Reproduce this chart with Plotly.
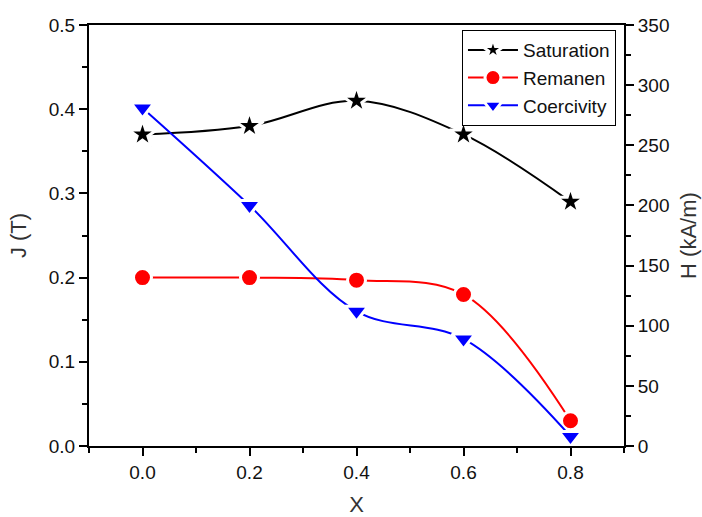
import plotly.graph_objects as go

x_vals = [0.0, 0.2, 0.4, 0.6, 0.8]
saturation = [0.37, 0.38, 0.41, 0.37, 0.29]
remanen = [0.20, 0.20, 0.197, 0.18, 0.03]
coercivity = [281, 200, 112, 89, 8]

x_ticks = [0.0, 0.2, 0.4, 0.6, 0.8]
x_ticklabels = ["0.0", "0.2", "0.4", "0.6", "0.8"]

FONT = "Liberation Sans, Arial, sans-serif"

fig = go.Figure()
fig.add_trace(go.Scatter(
    x=x_vals, y=saturation, name="Saturation", mode="lines+markers",
    line=dict(color="black", width=2, shape="spline", smoothing=1),
    marker=dict(symbol="star", size=21, color="black", line=dict(color="white", width=3)),
))
fig.add_trace(go.Scatter(
    x=x_vals, y=remanen, name="Remanen", mode="lines+markers",
    line=dict(color="red", width=2, shape="spline", smoothing=1),
    marker=dict(symbol="circle", size=18, color="red", line=dict(color="white", width=3)),
))
fig.add_trace(go.Scatter(
    x=x_vals, y=coercivity, name="Coercivity", mode="lines+markers", yaxis="y2",
    line=dict(color="blue", width=2, shape="spline", smoothing=1),
    marker=dict(symbol="triangle-down", size=20, color="blue", line=dict(color="white", width=3)),
))

axis_common = dict(
    showline=True, linecolor="black", linewidth=2, showgrid=False, zeroline=False,
    ticks="outside", ticklen=8, tickwidth=2, tickcolor="black", automargin=False,
    tickfont=dict(family=FONT, size=19, color="#111"),
)

fig.update_layout(
    width=702, height=517,
    margin=dict(l=89, r=78, t=25, b=71),
    paper_bgcolor="white", plot_bgcolor="white",
    font=dict(family=FONT, color="#111"),
    xaxis=dict(
        range=[-0.1, 0.9], tickvals=x_ticks, ticktext=x_ticklabels, mirror=True,
        minor=dict(ticks="outside", ticklen=5, tickwidth=2, tickcolor="black", dtick=0.1, tick0=-0.1),
        title=dict(text="X", font=dict(family=FONT, size=22, color="#333"), standoff=26),
        **axis_common,
    ),
    yaxis=dict(
        range=[0, 0.5], dtick=0.1, tickformat=".1f",
        minor=dict(ticks="outside", ticklen=5, tickwidth=2, tickcolor="black", dtick=0.05),
        title=dict(text="J (T)", font=dict(family=FONT, size=22, color="#333"), standoff=16),
        **axis_common,
    ),
    yaxis2=dict(
        range=[0, 350], dtick=50, overlaying="y", side="right", anchor="x",
        minor=dict(ticks="outside", ticklen=5, tickwidth=2, tickcolor="black", dtick=25),
        title=dict(text="H (kA/m)", font=dict(family=FONT, size=22, color="#333"), standoff=12),
        **axis_common,
    ),
    legend=dict(
        x=0.985, y=0.988, xanchor="right", yanchor="top",
        bordercolor="black", borderwidth=1, bgcolor="white",
        font=dict(family=FONT, size=19, color="#111"),
        itemwidth=50,
    ),
)

fig.write_html("out.html")
